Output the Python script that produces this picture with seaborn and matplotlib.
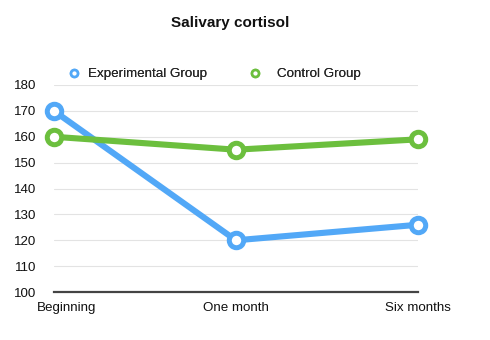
import matplotlib
matplotlib.use("Agg")
import matplotlib.pyplot as plt
from matplotlib.lines import Line2D
import matplotlib.transforms as mtransforms
import seaborn as sns
import pandas as pd

categories = ["Beginning", "One month", "Six months"]
experimental = [170, 120, 126]
control = [160, 155, 159]
series_names = ["Experimental Group", "Control Group"]
yticks = [100, 110, 120, 130, 140, 150, 160, 170, 180]

colors = {"Experimental Group": "#52a8f7", "Control Group": "#6cbf3e"}

sns.set_theme(style="white")
plt.rcParams['font.family'] = ['Liberation Sans', 'DejaVu Sans']

df = pd.DataFrame({
    "time": list(range(len(categories))) * 2,
    "value": experimental + control,
    "group": [series_names[0]] * 3 + [series_names[1]] * 3,
})

fig = plt.figure(figsize=(4.9, 3.4), dpi=100)
ax = fig.add_axes([0.110, 0.141, 0.743, 0.609])

for name in series_names:
    sub = df[df["group"] == name]
    sns.lineplot(data=sub, x="time", y="value", ax=ax, color=colors[name],
                 linewidth=4.4, marker="o", markersize=10.4, markeredgewidth=3.6,
                 markerfacecolor="white", markeredgecolor=colors[name],
                 clip_on=False, legend=False, zorder=3)

ax.set_xlim(0, 2)
ax.set_ylim(100, 180)
ax.set_yticks(yticks)
ax.set_xticks(range(len(categories)))
ax.set_xticklabels(categories)
ax.set_xlabel("")
ax.set_ylabel("")
ax.yaxis.grid(True, color="#e3e3e3", linewidth=0.8)
ax.set_axisbelow(True)
for s in ["left", "right", "top"]:
    ax.spines[s].set_visible(False)
ax.spines["bottom"].set_color("#444444")
ax.spines["bottom"].set_linewidth(1.6)
ax.spines["bottom"].set_zorder(2)
ax.tick_params(axis="both", length=0, labelsize=9.6, colors="#111111")
ax.tick_params(axis="y", pad=13)
ax.tick_params(axis="x", pad=7)

# shift first x label like the reference
labels = ax.get_xticklabels()
labels[0].set_transform(labels[0].get_transform() +
                        mtransforms.ScaledTranslation(13 / 100, 0, fig.dpi_scale_trans))

# two legend entries placed separately, as in the reference
positions = [(0.112, 0.55), (0.483, 1.1)]
for name, (xpos, pad) in zip(series_names, positions):
    h = Line2D([], [], linestyle="none", marker="o", markersize=5,
               markerfacecolor="white", markeredgecolor=colors[name],
               markeredgewidth=1.9)
    leg = fig.legend([h], [name], loc="center left", bbox_to_anchor=(xpos, 0.782),
                     frameon=False, fontsize=9.6, handletextpad=pad,
                     handlelength=1.0)
    fig.add_artist(leg)

fig.text(0.47, 0.932, "Salivary cortisol", ha="center", va="center",
         fontsize=11, fontweight="bold", color="#111111")

fig.savefig("out.png", dpi=100, facecolor="white")
